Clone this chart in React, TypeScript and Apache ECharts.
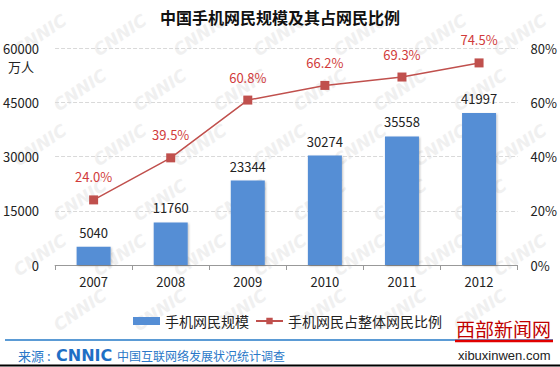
import React, { useEffect, useRef } from "react";
import * as echarts from "echarts";

const years = ["2007", "2008", "2009", "2010", "2011", "2012"];
const users = [5040, 11760, 23344, 30274, 35558, 41997];
const ratio = [24.0, 39.5, 60.8, 66.2, 69.3, 74.5];
const barName = "手机网民规模";
const lineName = "手机网民占整体网民比例";
const title = "中国手机网民规模及其占网民比例";

const FONT = "'Noto Sans CJK SC', 'Noto Sans', sans-serif";

function watermarks() {
  const items: any[] = [];
  for (let r = 0; r < 6; r++) {
    for (let c = 0; c < 7; c++) {
      const x = 40 + c * 80 + (r % 2) * 40;
      const y = 35 + r * 55;
      if (x > 525) continue;
      items.push({
        type: "text",
        x,
        y,
        rotation: 0.6,
        silent: true,
        z: -10,
        style: {
          text: "CNNIC",
          fill: "#f0f0f0",
          font: "italic bold 17px 'DejaVu Sans', sans-serif",
          align: "center",
          verticalAlign: "middle",
        },
      });
    }
  }
  return items;
}

export default function App() {
  const ref = useRef<HTMLDivElement>(null);
  useEffect(() => {
    if (!ref.current) return;
    document.body.style.margin = "0";
    const chart = echarts.init(ref.current, null, { renderer: "svg" });
    chart.setOption({
      animation: false,
      backgroundColor: "#ffffff",
      textStyle: { fontFamily: FONT },
      title: {
        text: title,
        left: "center",
        top: 4,
        textStyle: { fontSize: 16, fontWeight: "bold", color: "#111", fontFamily: FONT },
      },
      grid: { left: 53, right: 40, top: 48, bottom: 102 },
      legend: {
        top: 309,
        left: 128,
        itemGap: 6,
        itemWidth: 27,
        itemHeight: 8,
        textStyle: { fontSize: 14, color: "#222", fontFamily: FONT },
        data: [
          { name: barName, icon: "rect" },
          { name: lineName },
        ],
      },
      xAxis: {
        type: "category",
        data: years,
        axisLine: { lineStyle: { color: "#999" } },
        axisTick: { show: true, length: 5, lineStyle: { color: "#999" } },
        axisLabel: { color: "#222", fontSize: 13, margin: 10, fontFamily: FONT },
      },
      yAxis: [
        {
          type: "value",
          min: 0,
          max: 60000,
          interval: 15000,
          axisLine: { show: false },
          axisTick: { show: false },
          axisLabel: {
            color: "#222",
            fontSize: 13,
            margin: 16,
            fontFamily: FONT,
            formatter: (v: number) => String(v),
          },
          splitLine: { lineStyle: { color: "#d9d9d9", type: "dashed" } },
        },
        {
          type: "value",
          min: 0,
          max: 80,
          interval: 20,
          position: "right",
          axisLine: { show: false },
          axisTick: { show: false },
          axisLabel: { color: "#222", fontSize: 13, margin: 13, formatter: "{value}%", fontFamily: FONT },
          splitLine: { show: false },
        },
      ],
      series: [
        {
          name: barName,
          type: "bar",
          data: users,
          barWidth: 34,
          itemStyle: {
            color: "#558ed5",
            shadowColor: "rgba(0,0,0,0.25)",
            shadowBlur: 2,
            shadowOffsetX: 1,
            shadowOffsetY: 1,
          },
          label: {
            show: true,
            position: "top",
            distance: 8,
            color: "#222",
            fontSize: 13,
            fontFamily: FONT,
          },
        },
        {
          name: lineName,
          type: "line",
          yAxisIndex: 1,
          data: ratio,
          symbol: "rect",
          symbolSize: 9,
          lineStyle: { color: "#c0504d", width: 1.5 },
          itemStyle: { color: "#c0504d" },
          label: {
            show: true,
            position: "top",
            distance: 12,
            color: "#d13b3b",
            fontSize: 13,
            fontFamily: FONT,
            formatter: (p: any) => p.value.toFixed(1) + "%",
          },
        },
      ],
      graphic: [
        ...watermarks(),
        {
          type: "text",
          x: 8,
          y: 66,
          style: { text: "万人", fill: "#222", font: `13px ${FONT}`, verticalAlign: "middle" },
        },
        {
          type: "line",
          shape: { x1: 5, y1: 340, x2: 553, y2: 340 },
          style: { stroke: "#5b9bd5", lineWidth: 2 },
        },
        {
          type: "line",
          shape: { x1: 455, y1: 341, x2: 553, y2: 341 },
          style: { stroke: "#e00000", lineWidth: 2.5 },
          z: 5,
        },
        {
          type: "line",
          shape: { x1: 0, y1: 365.5, x2: 560, y2: 365.5 },
          style: { stroke: "#000", lineWidth: 2 },
        },
        {
          type: "text",
          x: 18,
          y: 355,
          style: { text: "来源 :", fill: "#2a78c8", font: `13px ${FONT}`, verticalAlign: "middle" },
        },
        {
          type: "text",
          x: 56,
          y: 355,
          style: {
            text: "CNNIC",
            fill: "#1f6fc5",
            font: "bold 16px 'DejaVu Sans', sans-serif",
            verticalAlign: "middle",
          },
        },
        {
          type: "text",
          x: 117,
          y: 355,
          style: {
            text: "中国互联网络发展状况统计调查",
            fill: "#2a78c8",
            font: `12px ${FONT}`,
            verticalAlign: "middle",
          },
        },
        {
          type: "text",
          x: 456,
          y: 328,
          style: {
            text: "西部新闻网",
            fill: "#c00000",
            font: `19px ${FONT}`,
            verticalAlign: "middle",
          },
        },
        {
          type: "text",
          x: 458,
          y: 355,
          style: {
            text: "xibuxinwen.com",
            fill: "#222",
            font: `13px 'Liberation Sans', sans-serif`,
            verticalAlign: "middle",
          },
        },
      ],
    });
    return () => chart.dispose();
  }, []);
  return (
    <div
      ref={ref}
      style={{ position: "absolute", left: 0, top: 0, width: 560, height: 367 }}
    />
  );
}
